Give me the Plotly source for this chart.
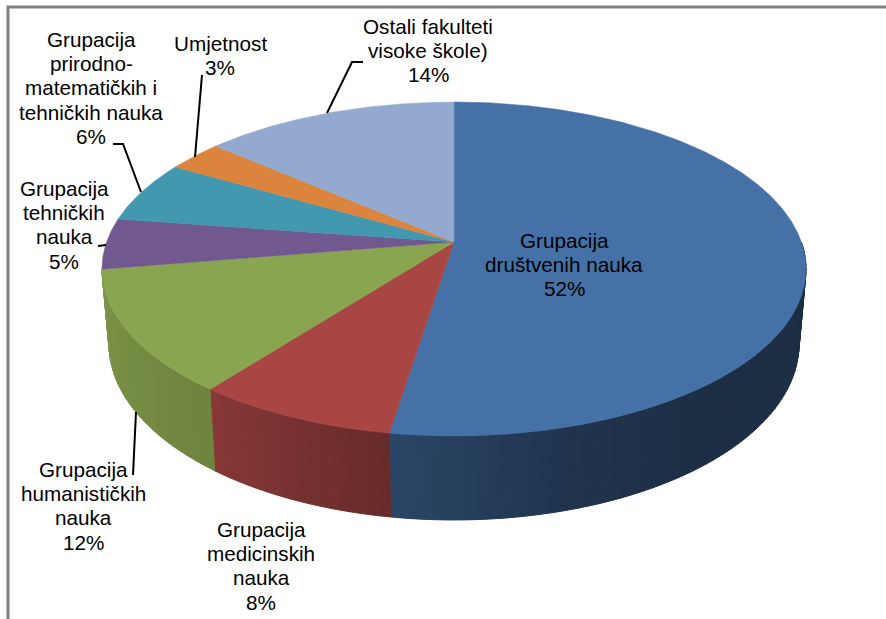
import numpy as np
import plotly.graph_objects as go

# procenti kako su ispisani na grafikonu i udjeli ocitani sa slike
labels = [
    "Grupacija<br>društvenih nauka",
    "Grupacija<br>medicinskih<br>nauka",
    "Grupacija<br>humanističkih<br>nauka",
    "Grupacija<br>tehničkih<br>nauka",
    "Grupacija<br>prirodno-<br>matematičkih i<br>tehničkih nauka",
    "Umjetnost",
    "Ostali fakulteti<br>visoke škole)",
]
percents = [52, 8, 12, 5, 6, 3, 14]
shares = [52.5, 8.0, 11.9, 4.9, 6.0, 3.0, 13.7]
colors = [(69, 113, 166), (168, 70, 68), (138, 165, 79), (113, 88, 143),
          (65, 152, 175), (219, 132, 61), (147, 169, 207)]

# polozaj natpisa: centar po x, sredina prvog reda po y
label_pos = [(564, 240), (261, 529), (83, 469), (64, 188), (91, 39), (220, 43), (428, 26)]
line_pitch = 24.4

leaders = [
    [(327, 113), (352, 62), (363, 62)],
    [(195, 157), (202, 75)],
    [(141, 192), (123, 144), (113, 144)],
    [(106, 245), (98, 246)],
    [(136, 412), (133, 475)],
]

# perspektiva kruga: gornja i donja ploha
k = 0.1617
top = dict(cx=454, cy=242, a=347.4, b=162.6)
base = dict(cx=454, cy=315.5, a=340.5, b=171.4)


def project(theta, plane):
    t = np.radians(theta)
    u, v = np.sin(t), -np.cos(t)
    w = 1 - k * v
    return plane["cx"] + plane["a"] * u / w, plane["cy"] + plane["b"] * v / w


def shade(theta):
    return np.interp(theta, [95, 140, 165, 189, 217, 262], [0.41, 0.41, 0.47, 0.62, 0.80, 0.90])


edges = np.cumsum([0] + shares) * 3.6

fig = go.Figure()

# bocna strana: vidljivi su samo plava, crvena i zelena isjecak
for i, color in enumerate(colors[:3]):
    lo, hi = edges[i], edges[i + 1]
    steps = np.arange(max(lo, 90), hi, 1.5)
    steps = np.append(steps, hi)
    for t0, t1 in zip(steps[:-1], steps[1:]):
        x0, y0 = project(t0, top)
        x1, y1 = project(t1, top)
        x2, y2 = project(t1, base)
        x3, y3 = project(t0, base)
        s = shade((t0 + t1) / 2)
        c = "rgb(%d,%d,%d)" % tuple(int(v * s) for v in color)
        fig.add_trace(go.Scatter(x=[x0, x1, x2, x3, x0], y=[y0, y1, y2, y3, y0], mode="lines",
                                 fill="toself", fillcolor=c, line=dict(color=c, width=1),
                                 hoverinfo="skip", showlegend=False))

# gornja ploha
for i, color in enumerate(colors):
    thetas = np.linspace(edges[i], edges[i + 1], max(int(shares[i] * 8), 8))
    xs, ys = project(thetas, top)
    c = "rgb(%d,%d,%d)" % color
    fig.add_trace(go.Scatter(x=[top["cx"], *xs, top["cx"]], y=[top["cy"], *ys, top["cy"]], mode="lines",
                             fill="toself", fillcolor=c, line=dict(color=c, width=0.5),
                             hoverinfo="skip", showlegend=False))

# natpisi, svaki red posebno zbog razmaka izmedju redova
annotations = []
for text, pct, (lx, ly) in zip(labels, percents, label_pos):
    for j, line in enumerate(text.split("<br>") + ["%d%%" % pct]):
        annotations.append(dict(x=lx, y=ly + j * line_pitch, text=line, showarrow=False,
                                xanchor="center", yanchor="middle",
                                font=dict(family="Liberation Sans", size=20.7, color="black")))

shapes = []
for pts in leaders:
    path = "M " + " L ".join("%g %g" % p for p in pts)
    shapes.append(dict(type="path", path=path, line=dict(color="black", width=2)))

# okvir gore i lijevo
shapes.append(dict(type="path", path="M 8 619 L 8 7 L 886 7", line=dict(color="#808080", width=3)))

fig.update_layout(
    width=886, height=619,
    margin=dict(l=0, r=0, t=0, b=0),
    paper_bgcolor="white", plot_bgcolor="white",
    xaxis=dict(range=[0, 886], visible=False, fixedrange=True),
    yaxis=dict(range=[619, 0], visible=False, fixedrange=True),
    annotations=annotations, shapes=shapes,
    showlegend=False,
)

fig.write_html("out.html", config={"displayModeBar": False},
               post_script="document.body.style.margin='0';document.body.style.overflow='hidden';")
